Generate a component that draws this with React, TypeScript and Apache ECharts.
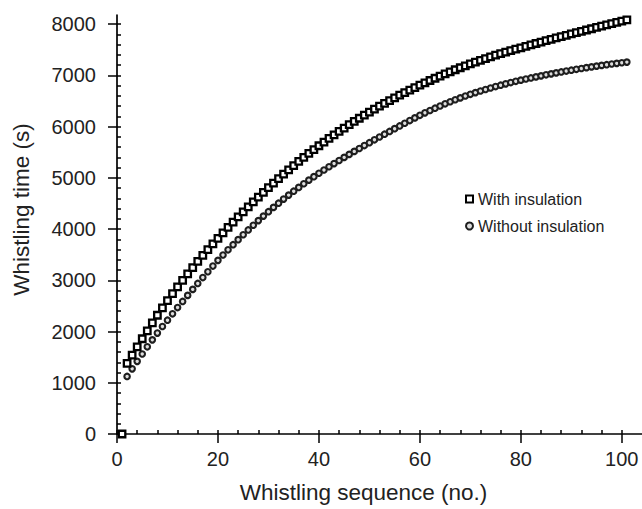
import React, { useEffect, useRef } from "react";
import * as echarts from "echarts";

// Whistling time (s) for sequence numbers 1..101
const withInsulation: number[] = [
  0, 1380, 1540, 1700, 1860, 2015, 2170, 2318, 2463, 2605,
  2740, 2872, 3001, 3127, 3250, 3370, 3487, 3601, 3712, 3820,
  3927, 4032, 4135, 4237, 4337, 4435, 4531, 4626, 4719, 4810,
  4899, 4987, 5073, 5157, 5240, 5321, 5400, 5477, 5553, 5627,
  5699, 5770, 5839, 5907, 5973, 6038, 6102, 6164, 6225, 6285,
  6343, 6400, 6456, 6510, 6563, 6615, 6666, 6715, 6763, 6810,
  6856, 6901, 6945, 6988, 7030, 7071, 7111, 7150, 7188, 7225,
  7261, 7296, 7330, 7363, 7395, 7426, 7456, 7485, 7513, 7540,
  7568, 7596, 7624, 7651, 7678, 7705, 7732, 7758, 7784, 7810,
  7836, 7862, 7887, 7912, 7937, 7962, 7987, 8012, 8037, 8061,
  8085,
];

const withoutInsulation: number[] = [
  0, 1124, 1272, 1418, 1562, 1702, 1838, 1970, 2098, 2222,
  2346, 2468, 2588, 2706, 2823, 2939, 3054, 3167, 3279, 3390,
  3494, 3596, 3696, 3794, 3890, 3984, 4076, 4166, 4254, 4340,
  4424, 4506, 4586, 4664, 4740, 4814, 4886, 4956, 5024, 5090,
  5154, 5217, 5279, 5340, 5400, 5459, 5517, 5574, 5631, 5687,
  5743, 5798, 5853, 5907, 5961, 6014, 6067, 6119, 6171, 6222,
  6270, 6316, 6361, 6404, 6446, 6486, 6525, 6562, 6598, 6632,
  6665, 6696, 6726, 6755, 6783, 6810, 6836, 6861, 6885, 6908,
  6930, 6951, 6972, 6992, 7012, 7031, 7050, 7068, 7086, 7103,
  7120, 7136, 7152, 7167, 7182, 7196, 7210, 7223, 7236, 7248,
  7260,
];

const seriesNames = ["With insulation", "Without insulation"];

const xLabelTicks = [0, 20, 40, 60, 80, 100];
const xMinorTicks = [0, 4, 8, 12, 16, 20, 24, 28, 32, 36, 40, 44, 48, 52, 56, 60, 64, 68, 72, 76, 80, 84, 88, 92, 96, 100];
const yLabelTicks = [0, 1000, 2000, 3000, 4000, 5000, 6000, 7000, 8000];
const yMinorTicks = [
  0, 200, 400, 600, 800, 1000, 1200, 1400, 1600, 1800, 2000, 2200, 2400, 2600, 2800,
  3000, 3200, 3400, 3600, 3800, 4000, 4200, 4400, 4600, 4800, 5000, 5200, 5400, 5600,
  5800, 6000, 6200, 6400, 6600, 6800, 7000, 7200, 7400, 7600, 7800, 8000,
];

const FONT = "'Liberation Sans', Arial, Helvetica, sans-serif";

export default function App() {
  const ref = useRef<HTMLDivElement>(null);

  useEffect(() => {
    if (!ref.current) return;
    const chart = echarts.init(ref.current, undefined, { renderer: "svg" });
    const xMin = 0, xMax = 104, yMin = 0, yMax = 8180;
    const axisLine = { show: true, lineStyle: { color: "#000", width: 1.7 } };
    const tickLine = { color: "#000", width: 1.5 };
    const plain = (v: number) => String(v);
    const option: any = {
      animation: false,
      backgroundColor: "#fff",
      grid: { left: 117, right: 0, top: 15, bottom: 72, containLabel: false },
      legend: {
        data: seriesNames,
        orient: "vertical",
        left: 460,
        top: 186,
        itemWidth: 7,
        itemHeight: 7,
        itemGap: 11,
        textStyle: { fontSize: 16, color: "#222", fontFamily: FONT },
      },
      xAxis: [
        {
          type: "value",
          min: xMin,
          max: xMax,
          position: "bottom",
          axisLine,
          splitLine: { show: false },
          axisTick: { show: true, inside: true, length: 4, customValues: xMinorTicks, lineStyle: tickLine },
          axisLabel: { customValues: xLabelTicks, formatter: plain, fontSize: 20, color: "#222", fontFamily: FONT, margin: 15 },
          name: "Whistling sequence (no.)",
          nameLocation: "middle",
          nameGap: 47,
          nameTextStyle: { fontSize: 22.5, color: "#222", fontFamily: FONT, padding: [0, 32, 0, 0] },
        },
        {
          type: "value",
          min: xMin,
          max: xMax,
          position: "bottom",
          offset: 0,
          axisLine: { show: false },
          splitLine: { show: false },
          axisTick: { show: true, inside: false, length: 9, customValues: xLabelTicks, lineStyle: tickLine },
          axisLabel: { show: false },
        },
      ],
      yAxis: [
        {
          type: "value",
          min: yMin,
          max: yMax,
          position: "left",
          axisLine,
          splitLine: { show: false },
          axisTick: { show: true, inside: true, length: 4, customValues: yMinorTicks, lineStyle: tickLine },
          axisLabel: { customValues: yLabelTicks, formatter: plain, fontSize: 20, color: "#222", fontFamily: FONT, margin: 21 },
          name: "Whistling time (s)",
          nameLocation: "middle",
          nameGap: 84,
          nameTextStyle: { fontSize: 22.5, color: "#222", fontFamily: FONT, padding: [0, 0, 0, 30] },
        },
        {
          type: "value",
          min: yMin,
          max: yMax,
          position: "left",
          offset: 0,
          axisLine: { show: false },
          splitLine: { show: false },
          axisTick: { show: true, inside: false, length: 9, customValues: yLabelTicks, lineStyle: tickLine },
          axisLabel: { show: false },
        },
      ],
      series: [
        {
          name: seriesNames[0],
          type: "scatter",
          xAxisIndex: 0,
          yAxisIndex: 0,
          symbol: "rect",
          symbolSize: 6.5,
          z: 3,
          itemStyle: { color: "#fff", borderColor: "#000", borderWidth: 2.3, opacity: 1 },
          data: withInsulation.map((v, i) => [i + 1, v]),
        },
        {
          name: seriesNames[1],
          type: "scatter",
          xAxisIndex: 0,
          yAxisIndex: 0,
          symbol: "circle",
          symbolSize: 5.5,
          z: 2,
          itemStyle: { color: "#ddd", borderColor: "#1e1e1e", borderWidth: 2.1, opacity: 1 },
          data: withoutInsulation.map((v, i) => [i + 1, v]),
        },
      ],
    };
    chart.setOption(option);
    return () => chart.dispose();
  }, []);

  return (
    <div
      ref={ref}
      style={{ position: "fixed", left: 0, top: 0, width: 642, height: 509, background: "#fff" }}
    />
  );
}
